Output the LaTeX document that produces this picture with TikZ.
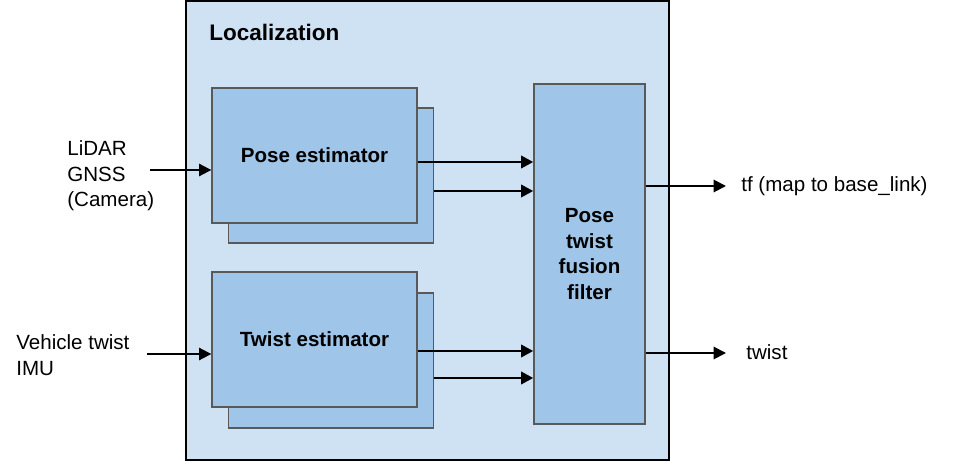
\documentclass[tikz,border=0pt]{standalone}
\usepackage{fontspec}
\setmainfont{Liberation Sans}
\usepackage{tikz}
\usetikzlibrary{arrows.meta}

\definecolor{locfill}{HTML}{CFE2F3}
\definecolor{boxfill}{HTML}{9FC5E8}
\definecolor{boxline}{HTML}{595959}

\begin{document}
\begin{tikzpicture}[x=0.02cm, y=-0.02cm,
    font=\fontsize{11.7}{14.5}\selectfont,
    >={Triangle[length=7pt, width=7pt]},
    blk/.style={draw=boxline, line width=0.8pt, fill=boxfill, minimum width=4.1cm, minimum height=2.7cm,
      font=\fontsize{11.7}{14.5}\selectfont\bfseries},
    arr/.style={->, line width=1.1pt},
    inarr/.style={->, line width=1.6pt},
    txt/.style={inner sep=0pt, align=left}]
  \useasboundingbox (0,0) rectangle (966,462);
  % localization frame
  \node[draw, line width=1.1pt, fill=locfill, minimum width=9.66cm, minimum height=9.18cm] (loc) at (427.5,230.5) {};
  \node[txt, anchor=west, font=\fontsize{12.8}{15}\selectfont\bfseries] (loctitle) at (209,32) {Localization};
  % estimators, each with a copy behind
  \node[blk] (poseB) at (331,175.5) {};
  \node[blk] (pose) at (314.5,155.5) {Pose estimator};
  \node[blk] (twistB) at (331,360.5) {};
  \node[blk] (twist) at (314.5,339.5) {Twist estimator};
  \node[blk, minimum width=2.22cm, minimum height=6.8cm, align=center] (fusion) at (589.5,254) {Pose\\twist\\fusion\\filter};
  % inputs
  \node[txt, anchor=west] (insens) at (67,176) {LiDAR\\GNSS\\(Camera)};
  \node[txt, anchor=west] (inveh) at (16,355) {Vehicle twist\\IMU};
  \coordinate (in1) at (150,170);
  \coordinate (in2) at (147,354);
  \draw[arr] (in1) -- (in1 -| pose.west);
  \draw[arr] (in2) -- (in2 -| twist.west);
  % estimator outputs
  \foreach \s/\y in {pose/162, poseB/191, twist/351, twistB/378} {
    \coordinate (o\s) at (\s.east |- 0,\y);
    \draw[inarr] (o\s) -- (o\s -| fusion.west);}
  % fusion outputs
  \coordinate (tfend) at (726,186);
  \coordinate (twend) at (726,353);
  \draw[arr] (tfend -| fusion.east) -- (tfend);
  \draw[arr] (twend -| fusion.east) -- (twend);
  \node[txt, anchor=west] (tfout) at (741,186) {tf (map to base\_link)};
  \node[txt, anchor=west] (twout) at (746,352) {twist};
\end{tikzpicture}
\end{document}
